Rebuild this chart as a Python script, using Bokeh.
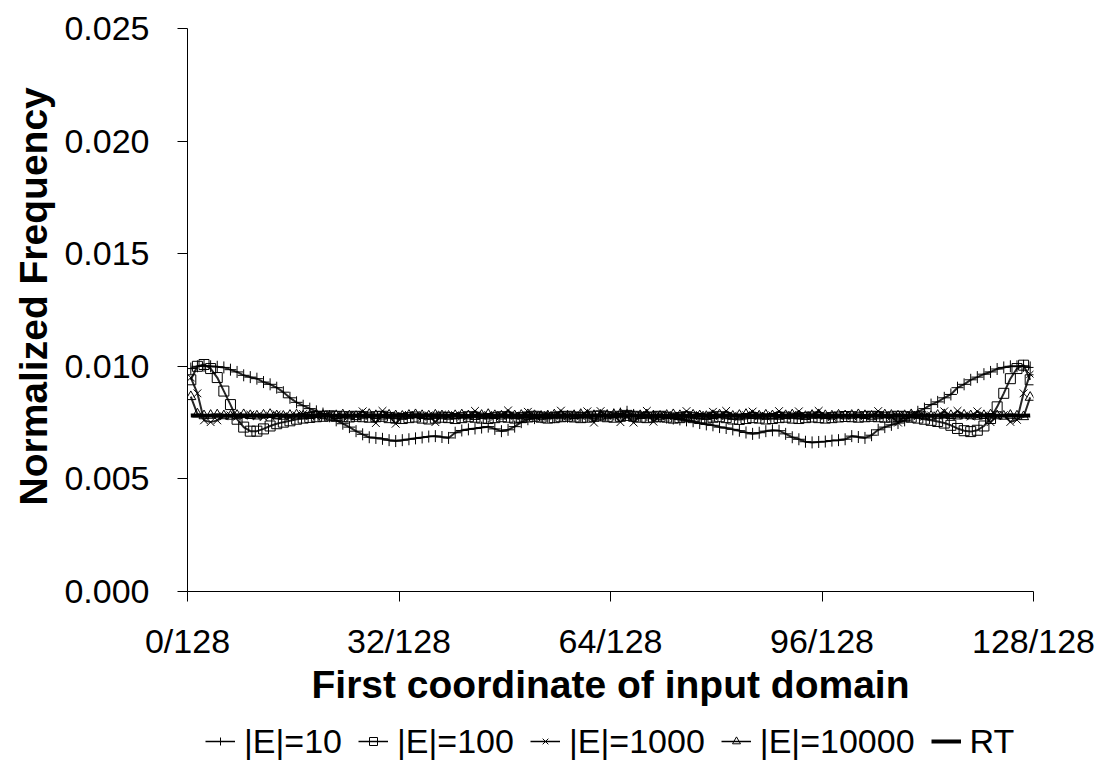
import numpy as np
from bokeh.plotting import figure
from bokeh.layouts import column
from bokeh.models import FixedTicker, Legend, LegendItem, NumeralTickFormatter, Title
from bokeh.embed import file_html
from bokeh.resources import INLINE

# 128 equal bins of the first input coordinate; each value sits at its bin centre
N_BINS = 128
X_TICKS = [0, 32, 64, 96, 128]
X_TICK_LABELS = ["0/128", "32/128", "64/128", "96/128", "128/128"]
Y_TICKS = [0.000, 0.005, 0.010, 0.015, 0.020, 0.025]

E10 = [
    0.00990, 0.01000, 0.01002, 0.01000, 0.00998, 0.00995, 0.00985, 0.00975, 0.00960, 0.00952,
    0.00945, 0.00930, 0.00920, 0.00905, 0.00885, 0.00860, 0.00840, 0.00825, 0.00812, 0.00800,
    0.00790, 0.00778, 0.00760, 0.00745, 0.00730, 0.00712, 0.00698, 0.00685, 0.00682, 0.00678,
    0.00672, 0.00668, 0.00672, 0.00676, 0.00680, 0.00684, 0.00688, 0.00690, 0.00686, 0.00682,
    0.00705, 0.00715, 0.00720, 0.00724, 0.00728, 0.00732, 0.00722, 0.00712, 0.00718, 0.00732,
    0.00752, 0.00765, 0.00770, 0.00774, 0.00776, 0.00774, 0.00778, 0.00776, 0.00780, 0.00778,
    0.00779, 0.00781, 0.00783, 0.00780, 0.00786, 0.00790, 0.00798, 0.00784, 0.00779, 0.00782,
    0.00778, 0.00775, 0.00772, 0.00768, 0.00764, 0.00760, 0.00756, 0.00748, 0.00742, 0.00738,
    0.00730, 0.00726, 0.00720, 0.00714, 0.00706, 0.00700, 0.00705, 0.00712, 0.00716, 0.00714,
    0.00700, 0.00685, 0.00676, 0.00665, 0.00662, 0.00664, 0.00666, 0.00670, 0.00672, 0.00676,
    0.00690, 0.00686, 0.00682, 0.00694, 0.00718, 0.00730, 0.00740, 0.00748, 0.00760, 0.00778,
    0.00798, 0.00812, 0.00830, 0.00842, 0.00860, 0.00875, 0.00905, 0.00920, 0.00940, 0.00952,
    0.00965, 0.00975, 0.00988, 0.00995, 0.01000, 0.01000, 0.01002, 0.00995,
]

E100 = [
    0.00940, 0.01000, 0.01008, 0.00990, 0.00950, 0.00890, 0.00830, 0.00765, 0.00730, 0.00712,
    0.00712, 0.00722, 0.00735, 0.00745, 0.00752, 0.00758, 0.00765, 0.00770, 0.00773, 0.00776,
    0.00778, 0.00780, 0.00778, 0.00776, 0.00775, 0.00778, 0.00776, 0.00774, 0.00776, 0.00778,
    0.00772, 0.00770, 0.00768, 0.00772, 0.00775, 0.00770, 0.00766, 0.00770, 0.00774, 0.00772,
    0.00768, 0.00772, 0.00776, 0.00774, 0.00770, 0.00768, 0.00772, 0.00776, 0.00774, 0.00770,
    0.00772, 0.00775, 0.00778, 0.00774, 0.00770, 0.00772, 0.00776, 0.00778, 0.00775, 0.00772,
    0.00774, 0.00778, 0.00780, 0.00776, 0.00774, 0.00778, 0.00782, 0.00778, 0.00774, 0.00772,
    0.00775, 0.00778, 0.00774, 0.00770, 0.00772, 0.00776, 0.00772, 0.00768, 0.00770, 0.00774,
    0.00776, 0.00772, 0.00766, 0.00764, 0.00768, 0.00772, 0.00770, 0.00766, 0.00768, 0.00772,
    0.00774, 0.00770, 0.00768, 0.00772, 0.00775, 0.00772, 0.00770, 0.00772, 0.00775, 0.00777,
    0.00776, 0.00774, 0.00776, 0.00778, 0.00776, 0.00774, 0.00775, 0.00778, 0.00776, 0.00774,
    0.00770, 0.00765, 0.00760, 0.00755, 0.00748, 0.00738, 0.00724, 0.00714, 0.00710, 0.00716,
    0.00735, 0.00768, 0.00820, 0.00880, 0.00945, 0.00990, 0.01005, 0.00940,
]

E1000 = [
    0.00950, 0.00880, 0.00760, 0.00752, 0.00760, 0.00778, 0.00782, 0.00776, 0.00780, 0.00785,
    0.00778, 0.00774, 0.00780, 0.00786, 0.00779, 0.00776, 0.00782, 0.00788, 0.00780, 0.00775,
    0.00779, 0.00784, 0.00781, 0.00776, 0.00783, 0.00780, 0.00800, 0.00778, 0.00748, 0.00802,
    0.00781, 0.00745, 0.00779, 0.00784, 0.00780, 0.00776, 0.00782, 0.00752, 0.00785, 0.00779,
    0.00783, 0.00777, 0.00780, 0.00802, 0.00779, 0.00784, 0.00776, 0.00782, 0.00804, 0.00780,
    0.00778, 0.00798, 0.00781, 0.00776, 0.00784, 0.00780, 0.00803, 0.00778, 0.00782, 0.00779,
    0.00800, 0.00750, 0.00801, 0.00780, 0.00783, 0.00752, 0.00779, 0.00750, 0.00784, 0.00802,
    0.00754, 0.00780, 0.00783, 0.00777, 0.00781, 0.00801, 0.00779, 0.00784, 0.00780, 0.00798,
    0.00778, 0.00802, 0.00781, 0.00776, 0.00783, 0.00799, 0.00780, 0.00777, 0.00782, 0.00801,
    0.00779, 0.00784, 0.00800, 0.00778, 0.00782, 0.00802, 0.00779, 0.00775, 0.00781, 0.00784,
    0.00780, 0.00777, 0.00783, 0.00779, 0.00801, 0.00782, 0.00776, 0.00750, 0.00781, 0.00784,
    0.00779, 0.00776, 0.00782, 0.00780, 0.00800, 0.00778, 0.00802, 0.00781, 0.00777, 0.00800,
    0.00782, 0.00752, 0.00779, 0.00783, 0.00753, 0.00762, 0.00880, 0.00965,
]

E10000 = [
    0.00865, 0.00788, 0.00780, 0.00782, 0.00784, 0.00780, 0.00778, 0.00782, 0.00785, 0.00781,
    0.00779, 0.00783, 0.00786, 0.00780, 0.00778, 0.00782, 0.00784, 0.00779, 0.00781, 0.00785,
    0.00782, 0.00778, 0.00781, 0.00784, 0.00780, 0.00777, 0.00782, 0.00786, 0.00781, 0.00779,
    0.00783, 0.00780, 0.00778, 0.00782, 0.00785, 0.00781, 0.00779, 0.00783, 0.00780, 0.00778,
    0.00781, 0.00784, 0.00780, 0.00777, 0.00782, 0.00786, 0.00781, 0.00779, 0.00783, 0.00780,
    0.00782, 0.00785, 0.00781, 0.00778, 0.00780, 0.00784, 0.00782, 0.00779, 0.00781, 0.00786,
    0.00783, 0.00780, 0.00778, 0.00782, 0.00785, 0.00788, 0.00783, 0.00779, 0.00781, 0.00784,
    0.00780, 0.00778, 0.00782, 0.00785, 0.00781, 0.00779, 0.00783, 0.00780, 0.00777, 0.00781,
    0.00784, 0.00780, 0.00778, 0.00782, 0.00786, 0.00781, 0.00779, 0.00783, 0.00780, 0.00778,
    0.00781, 0.00784, 0.00780, 0.00777, 0.00782, 0.00785, 0.00781, 0.00779, 0.00783, 0.00780,
    0.00782, 0.00785, 0.00781, 0.00778, 0.00780, 0.00784, 0.00782, 0.00779, 0.00781, 0.00785,
    0.00783, 0.00780, 0.00778, 0.00782, 0.00785, 0.00781, 0.00779, 0.00783, 0.00780, 0.00778,
    0.00781, 0.00784, 0.00780, 0.00778, 0.00782, 0.00779, 0.00776, 0.00862,
]

RT = [
    0.00781, 0.00782, 0.00780, 0.00781, 0.00783, 0.00781, 0.00780, 0.00782, 0.00781, 0.00780,
    0.00782, 0.00781, 0.00779, 0.00781, 0.00782, 0.00780, 0.00781, 0.00783, 0.00781, 0.00780,
    0.00781, 0.00782, 0.00780, 0.00781, 0.00782, 0.00781, 0.00780, 0.00782, 0.00781, 0.00779,
    0.00781, 0.00782, 0.00780, 0.00781, 0.00783, 0.00781, 0.00780, 0.00782, 0.00781, 0.00780,
    0.00782, 0.00781, 0.00779, 0.00781, 0.00782, 0.00780, 0.00781, 0.00783, 0.00781, 0.00780,
    0.00781, 0.00782, 0.00780, 0.00781, 0.00782, 0.00781, 0.00780, 0.00782, 0.00781, 0.00779,
    0.00781, 0.00782, 0.00780, 0.00781, 0.00783, 0.00781, 0.00780, 0.00782, 0.00781, 0.00780,
    0.00782, 0.00781, 0.00779, 0.00781, 0.00782, 0.00780, 0.00781, 0.00783, 0.00781, 0.00780,
    0.00781, 0.00782, 0.00780, 0.00781, 0.00782, 0.00781, 0.00780, 0.00782, 0.00781, 0.00779,
    0.00781, 0.00782, 0.00780, 0.00781, 0.00783, 0.00781, 0.00780, 0.00782, 0.00781, 0.00780,
    0.00782, 0.00781, 0.00779, 0.00781, 0.00782, 0.00780, 0.00781, 0.00783, 0.00781, 0.00780,
    0.00781, 0.00782, 0.00780, 0.00781, 0.00782, 0.00781, 0.00780, 0.00782, 0.00781, 0.00779,
    0.00781, 0.00782, 0.00780, 0.00781, 0.00783, 0.00781, 0.00780, 0.00782,
]

SERIES = [
    ("|E|=10", E10, "cross", 12),
    ("|E|=100", E100, "square", 10),
    ("|E|=1000", E1000, "x", 11),
    ("|E|=10000", E10000, "triangle", 10),
]
RT_LABEL = "RT"

FONT = "Liberation Sans"
x = np.arange(N_BINS) + 0.5

# ---- main chart -------------------------------------------------------------
p = figure(
    width=1104, height=712,
    x_range=(0, 128), y_range=(0, 0.025),
    output_backend="svg", toolbar_location=None,
    min_border_left=187, min_border_right=71, min_border_top=28, min_border_bottom=121,
)
p.outline_line_color = None
p.grid.visible = False

for label, vals, marker, size in SERIES:
    p.line(x, vals, line_color="black", line_width=2, line_alpha=0.85)
    p.scatter(x, vals, marker=marker, size=size, line_color="black",
              line_width=1, fill_color=None)
p.line(x, RT, line_color="black", line_width=4)

for ax in (p.xaxis[0], p.yaxis[0]):
    ax.axis_line_color = "black"
    ax.axis_line_width = 1
    ax.major_tick_line_color = "black"
    ax.major_tick_in = 0
    ax.major_tick_out = 10
    ax.minor_tick_line_color = None
    ax.major_label_text_font = FONT
    ax.major_label_text_font_size = "34px"
    ax.major_label_text_color = "black"
    ax.axis_label_text_font = FONT
    ax.axis_label_text_font_style = "bold"
    ax.axis_label_text_font_size = "39px"
    ax.axis_label_text_color = "black"

p.xaxis.ticker = FixedTicker(ticks=X_TICKS)
p.xaxis.major_label_overrides = {t: s for t, s in zip(X_TICKS, X_TICK_LABELS)}
p.xaxis.major_label_standoff = 20
p.xaxis.axis_label = "First coordinate of input domain"
p.xaxis.axis_label_standoff = 0

p.yaxis.ticker = FixedTicker(ticks=Y_TICKS)
p.yaxis.formatter = NumeralTickFormatter(format="0.000")
p.yaxis.major_label_standoff = 28

# vertical y title, starting a little above the frame's bottom edge
p.add_layout(Title(text="Normalized Frequency", align="left", offset=86,
                   text_font=FONT, text_font_style="bold", text_font_size="39px",
                   text_color="black", standoff=14), "left")

# ---- legend strip under the chart ------------------------------------------
# its frame lines up with the chart's frame; the sample renderers use the real
# series but sit outside this strip's y range, so only the legend shows
lg = figure(
    width=1104, height=55, x_range=(0, 128), y_range=(1, 2),
    x_axis_type=None, y_axis_type=None,
    output_backend="svg", toolbar_location=None,
    min_border=0,
)
lg.outline_line_color = None
lg.grid.visible = False

items = []
for label, vals, marker, size in SERIES:
    ln = lg.line(x, vals, line_color="black", line_width=1.5)
    sc = lg.scatter(x, vals, marker=marker, size=size - 1, line_color="black",
                    line_width=1, fill_color=None)
    items.append(LegendItem(label=label, renderers=[ln, sc]))
rt_ln = lg.line(x, RT, line_color="black", line_width=4)
items.append(LegendItem(label=RT_LABEL, renderers=[rt_ln]))

legend = Legend(
    items=items, orientation="horizontal", location=(18, 6),
    label_text_font=FONT, label_text_font_size="34px", label_text_color="black",
    glyph_width=30, glyph_height=20, label_height=40, label_standoff=9, spacing=16,
    padding=0, margin=0, border_line_color=None, background_fill_alpha=0,
)
lg.add_layout(legend, "center")

layout = column(p, lg, spacing=0)
open("out.html", "w").write(file_html(layout, INLINE))
